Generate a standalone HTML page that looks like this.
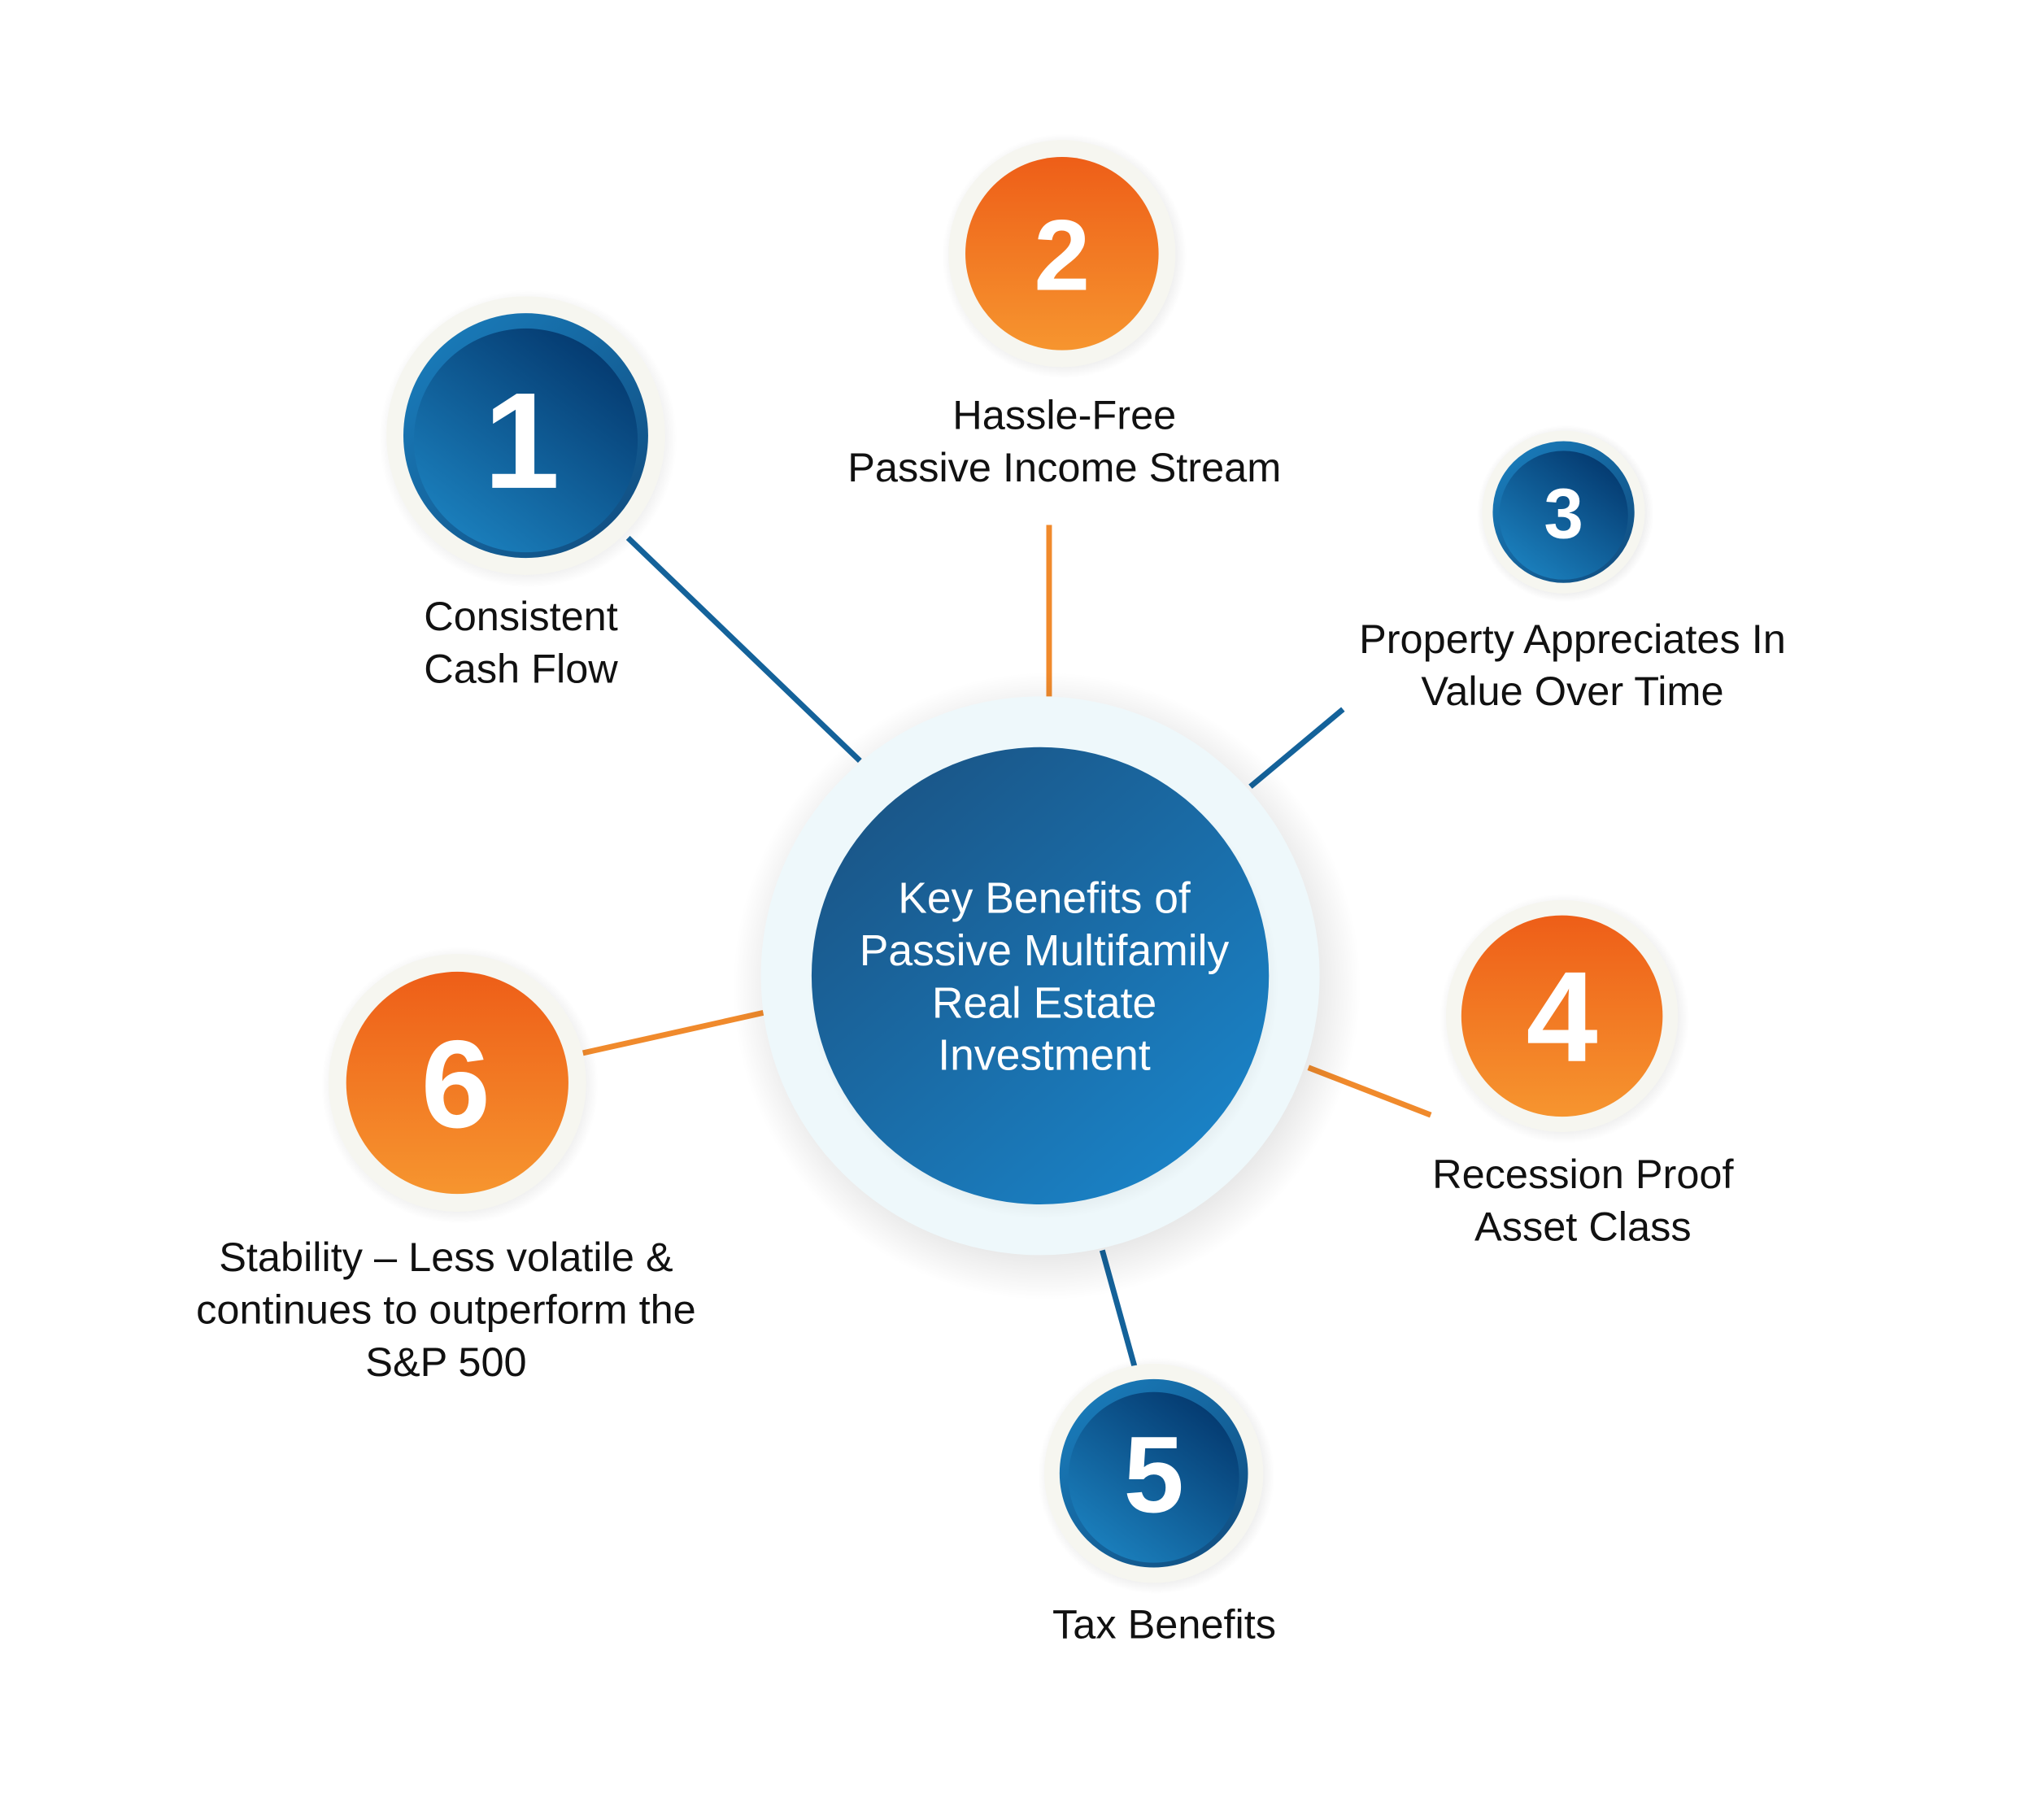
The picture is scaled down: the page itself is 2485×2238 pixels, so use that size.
<!DOCTYPE html>
<html><head><meta charset="utf-8"><style>
html,body{margin:0;padding:0;background:#fff;}
svg{display:block;}
.t{font-family:"Liberation Sans",sans-serif;font-size:51px;fill:#111;text-anchor:middle;}
.c{font-family:"Liberation Sans",sans-serif;font-size:54px;fill:#fff;text-anchor:middle;}
.n{font-family:"Liberation Sans",sans-serif;font-weight:bold;fill:#fff;text-anchor:middle;}
</style></head><body>
<svg width="2485" height="2238" viewBox="0 0 2485 2238" xmlns="http://www.w3.org/2000/svg">
<defs>
<linearGradient id="bl" x1="0.8" y1="0.1" x2="0.2" y2="0.9"><stop offset="0" stop-color="#053c72"/><stop offset="1" stop-color="#1a7dba"/></linearGradient>
<linearGradient id="blr" x1="0" y1="0" x2="1" y2="1"><stop offset="0" stop-color="#1a80c0"/><stop offset="1" stop-color="#104a7c"/></linearGradient>
<linearGradient id="or" x1="0" y1="0" x2="0" y2="1"><stop offset="0" stop-color="#ee5e18"/><stop offset="1" stop-color="#f6952f"/></linearGradient>
<linearGradient id="cen" x1="0.15" y1="0.1" x2="0.85" y2="0.9"><stop offset="0" stop-color="#1a5688"/><stop offset="1" stop-color="#1a82c6"/></linearGradient>
<radialGradient id="sh"><stop offset="0.8" stop-color="#000" stop-opacity="0.12"/><stop offset="1" stop-color="#000" stop-opacity="0"/></radialGradient>
</defs>
<g transform="scale(0.99)">
<g stroke-width="7" stroke-linecap="butt">
<line x1="780" y1="668" x2="1068" y2="945" stroke="#14629a"/>
<line x1="1303" y1="652" x2="1303" y2="865" stroke="#f08a2c"/>
<line x1="1668" y1="881" x2="1553" y2="977" stroke="#14629a"/>
<line x1="1625" y1="1326" x2="1777" y2="1385" stroke="#f08a2c"/>
<line x1="1369" y1="1553" x2="1409" y2="1697" stroke="#14629a"/>
<line x1="724" y1="1308" x2="948" y2="1258" stroke="#f08a2c"/>
</g>
<circle cx="1300" cy="1225" r="390" fill="url(#sh)"/>
<circle cx="1292" cy="1212" r="347" fill="#eef8fb"/>
<circle cx="1296" cy="1222" r="292" fill="url(#sh)"/>
<circle cx="1292" cy="1212" r="284" fill="url(#cen)"/>
<text class="c" x="1297" y="1134">Key Benefits of</text>
<text class="c" x="1297" y="1199">Passive Multifamily</text>
<text class="c" x="1297" y="1264">Real Estate</text>
<text class="c" x="1297" y="1329">Investment</text>
<circle cx="656" cy="545" r="185" fill="url(#sh)"/>
<circle cx="653" cy="541" r="173" fill="#f6f6f0"/>
<circle cx="653" cy="541" r="152" fill="url(#blr)"/>
<circle cx="653" cy="547" r="139" fill="url(#bl)"/>
<text class="n" x="648" y="606" font-size="170">1</text>
<circle cx="1322" cy="318" r="152" fill="url(#sh)"/>
<circle cx="1319" cy="315" r="141" fill="#f6f6f0"/>
<circle cx="1319" cy="315" r="120" fill="url(#or)"/>
<text class="n" x="1319" y="360" font-size="125">2</text>
<circle cx="1944" cy="638" r="110" fill="url(#sh)"/>
<circle cx="1942" cy="636" r="101" fill="#f6f6f0"/>
<circle cx="1942" cy="636" r="88" fill="url(#blr)"/>
<circle cx="1942" cy="640" r="80" fill="url(#bl)"/>
<text class="n" x="1942" y="668" font-size="88">3</text>
<circle cx="1943" cy="1265" r="155" fill="url(#sh)"/>
<circle cx="1940" cy="1262" r="144" fill="#f6f6f0"/>
<circle cx="1940" cy="1262" r="125" fill="url(#or)"/>
<text class="n" x="1940" y="1318" font-size="160">4</text>
<circle cx="1436" cy="1833" r="147" fill="url(#sh)"/>
<circle cx="1433" cy="1830" r="136" fill="#f6f6f0"/>
<circle cx="1433" cy="1830" r="117" fill="url(#blr)"/>
<circle cx="1433" cy="1835" r="106" fill="url(#bl)"/>
<text class="n" x="1433" y="1878" font-size="135">5</text>
<circle cx="571" cy="1348" r="172" fill="url(#sh)"/>
<circle cx="568" cy="1345" r="160" fill="#f6f6f0"/>
<circle cx="568" cy="1345" r="138" fill="url(#or)"/>
<text class="n" x="566" y="1400" font-size="155">6</text>
<text class="t" x="647" y="783">Consistent</text>
<text class="t" x="647" y="848">Cash Flow</text>
<text class="t" x="1322" y="533">Hassle-Free</text>
<text class="t" x="1322" y="598">Passive Income Stream</text>
<text class="t" x="1953" y="811">Property Appreciates In</text>
<text class="t" x="1953" y="876">Value Over Time</text>
<text class="t" x="1966" y="1476">Recession Proof</text>
<text class="t" x="1966" y="1541">Asset Class</text>
<text class="t" x="1446" y="2035">Tax Benefits</text>
<text class="t" x="554" y="1579">Stability – Less volatile &amp;</text>
<text class="t" x="554" y="1644">continues to outperform the</text>
<text class="t" x="554" y="1709">S&amp;P 500</text>
</g>
</svg>
</body></html>
